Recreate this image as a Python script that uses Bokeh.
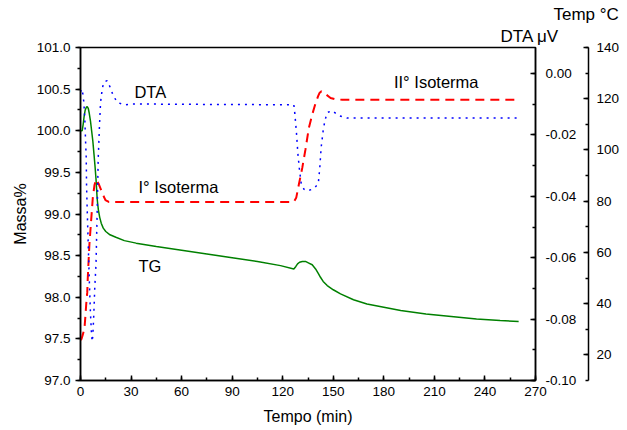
from bokeh.plotting import figure
from bokeh.models import (Range1d, LinearAxis, SingleIntervalTicker,
                          PrintfTickFormatter, Label, Title)
from bokeh.embed import file_html
from bokeh.resources import INLINE

# TG curve: sample mass (%) against time (min)
tg_time = [0, 1.0, 1.6, 2.2, 2.8, 3.4, 4.0, 4.6, 5.2, 5.9, 6.6, 7.3, 8.0, 8.6,
           9.2, 9.9, 10.6, 11.4, 12.3, 13.5, 15, 17.5, 21, 26, 33, 45, 60, 75,
           90, 105, 118.7, 126.6, 127.8, 128.8, 130, 131.6, 133.5, 135.5,
           137.5, 139.5, 141, 142.4, 144, 146.4, 150, 154.3, 162, 170, 180,
           190, 205, 220, 235, 249, 260]
tg_mass = [100.00, 100.00, 100.08, 100.18, 100.25, 100.28, 100.29, 100.27,
           100.21, 100.12, 100.00, 99.88, 99.72, 99.58, 99.42, 99.18, 99.05,
           98.96, 98.89, 98.83, 98.79, 98.75, 98.72, 98.68, 98.65, 98.61,
           98.565, 98.52, 98.475, 98.43, 98.38, 98.34, 98.37, 98.40, 98.42,
           98.43, 98.43, 98.41, 98.39, 98.34, 98.29, 98.24, 98.19, 98.14,
           98.09, 98.04, 97.97, 97.92, 97.88, 97.84, 97.80, 97.77, 97.74,
           97.72, 97.71]

# DTA signal (µV) against time (min)
dta_time = [0, 0.6, 1.4, 2.0, 2.6, 3.0, 3.4, 3.6, 4.0, 4.7, 5.3, 5.9, 6.5, 6.9,
            7.3, 7.9, 8.5, 9.2, 9.9, 10.5, 11.3, 11.9, 12.9, 13.8, 15.8, 17.8,
            19.2, 21.8, 26.1, 30.3, 60, 100, 126.6, 127.2, 128.2, 129.0, 130.0,
            131.0, 132.6, 134.5, 137.5, 138.9, 141.1, 142.0, 142.8, 144.0,
            145.0, 146.4, 149.4, 153.3, 158.3, 200, 260]
dta_signal = [-0.0060, -0.0050, -0.0066, -0.0094, -0.0154, -0.0219, -0.0274,
              -0.0366, -0.0448, -0.0578, -0.0686, -0.0780, -0.0845, -0.0873,
              -0.0856, -0.0784, -0.0693, -0.0621, -0.0448, -0.0278, -0.0164,
              -0.0094, -0.0050, -0.0028, -0.0023, -0.0047, -0.0069, -0.0094,
              -0.0102, -0.0099, -0.0100, -0.0101, -0.0102, -0.0131, -0.0196,
              -0.0261, -0.0317, -0.0359, -0.0377, -0.0382, -0.0377, -0.0372,
              -0.0359, -0.0306, -0.0241, -0.0186, -0.0154, -0.0127, -0.0121,
              -0.0137, -0.0145, -0.0145, -0.0145]

# Furnace temperature (°C) against time (min)
temp_time = [0, 0.6, 1.4, 2.0, 2.4, 3.0, 3.4, 4.0, 4.3, 4.6, 5.3, 6.3, 7.3,
             8.3, 9.3, 10.9, 13.2, 14.8, 16.8, 126.6, 128.0, 129.6, 131.6,
             133.5, 135.5, 137.5, 139.5, 141.0, 141.8, 143.0, 144.5, 146.0,
             148.4, 151.0, 155.3, 260]
temp_value = [25.8, 26.2, 28.0, 29.5, 30.7, 36.0, 39.8, 44.4, 49.7, 54.1, 63.3,
              72.3, 81.3, 86.3, 88.5, 86.6, 82.7, 80.4, 79.7, 79.7, 81.3, 86.6,
              93.0, 100.2, 108.6, 113.8, 118.3, 121.0, 122.2, 122.9, 122.5,
              121.5, 120.3, 119.8, 119.6, 119.6]

FONT = "Liberation Sans"
TICK_SIZE = "13.5px"

p = figure(width=627, height=430, output_backend="svg", toolbar_location=None,
           x_range=Range1d(0, 270), y_range=Range1d(97.0, 101.0),
           min_border_left=80, min_border_right=92, min_border_top=47,
           min_border_bottom=50, background_fill_color="white",
           border_fill_color="white")
p.extra_y_ranges = {"dta": Range1d(-0.10, 0.0085), "temp": Range1d(10, 140)}
p.xgrid.visible = False
p.ygrid.visible = False
p.outline_line_color = "black"
p.outline_line_width = 1.5


def style_axis(ax, inward):
    ax.axis_line_width = 1.5
    ax.axis_line_color = "black"
    ax.major_tick_line_width = 1.5
    ax.minor_tick_line_width = 1.5
    ax.major_tick_line_color = "black"
    ax.minor_tick_line_color = "black"
    if inward:
        ax.major_tick_in, ax.major_tick_out = 5, 0
        ax.minor_tick_in, ax.minor_tick_out = 3, 0
    else:
        ax.major_tick_in, ax.major_tick_out = 0, 5
        ax.minor_tick_in, ax.minor_tick_out = 0, 3
    ax.major_label_text_font = FONT
    ax.major_label_text_font_size = TICK_SIZE
    ax.major_label_text_color = "black"
    ax.axis_label_text_font = FONT
    ax.axis_label_text_font_size = "16px"
    ax.axis_label_text_font_style = "normal"
    ax.axis_label_text_color = "black"


# bottom: time
xa = p.xaxis[0]
xa.ticker = SingleIntervalTicker(interval=30, num_minor_ticks=2)
xa.axis_label = "Tempo (min)"
style_axis(xa, inward=True)
xa.major_label_standoff = 6
xa.axis_label_standoff = 9

# left: mass
ya = p.yaxis[0]
ya.ticker = SingleIntervalTicker(interval=0.5, num_minor_ticks=2)
ya.formatter = PrintfTickFormatter(format="%.1f")
ya.axis_label = "Massa%"
style_axis(ya, inward=False)
ya.major_label_standoff = 5
ya.axis_label_standoff = 5

# right: DTA
dta_axis = LinearAxis(y_range_name="dta",
                      ticker=SingleIntervalTicker(interval=0.02, num_minor_ticks=2),
                      formatter=PrintfTickFormatter(format="%.2f"),
                      axis_label=" ")
style_axis(dta_axis, inward=True)
dta_axis.major_label_standoff = 10
dta_axis.axis_label_standoff = 0
dta_axis.axis_label_text_font_size = "6px"
p.add_layout(dta_axis, "right")

# far right: temperature
temp_axis = LinearAxis(y_range_name="temp",
                       ticker=SingleIntervalTicker(interval=20, num_minor_ticks=2),
                       formatter=PrintfTickFormatter(format="%d"))
style_axis(temp_axis, inward=True)
temp_axis.major_label_standoff = 8
p.add_layout(temp_axis, "right")

# series
p.line(tg_time, tg_mass, line_color="#008000", line_width=1.5)
p.line(temp_time, temp_value, y_range_name="temp", line_color="#ff0000",
       line_width=2, line_dash="9 6")
p.line(dta_time, dta_signal, y_range_name="dta", line_color="#0000ff",
       line_width=1.5, line_dash="2 5")

# curve annotations
for txt, x, y in [("DTA", 32.0, 100.46), ("I° Isoterma", 34.4, 99.32),
                  ("II° Isoterma", 186.0, 100.59), ("TG", 34.4, 98.37)]:
    p.add_layout(Label(x=x, y=y, text=txt, text_font=FONT,
                       text_font_size="16.5px", text_baseline="middle",
                       text_align="left", text_color="black"))

# right-axis headers, stacked above the frame (first one nearest)
for txt, off, gap in [("DTA μV", 420, 3), ("Temp °C", 473, 0)]:
    p.add_layout(Title(text=txt, align="left", offset=off, text_font=FONT,
                       text_font_size="17px", text_font_style="normal",
                       text_color="black", standoff=gap), "above")

open("out.html", "w").write(file_html(p, INLINE))
